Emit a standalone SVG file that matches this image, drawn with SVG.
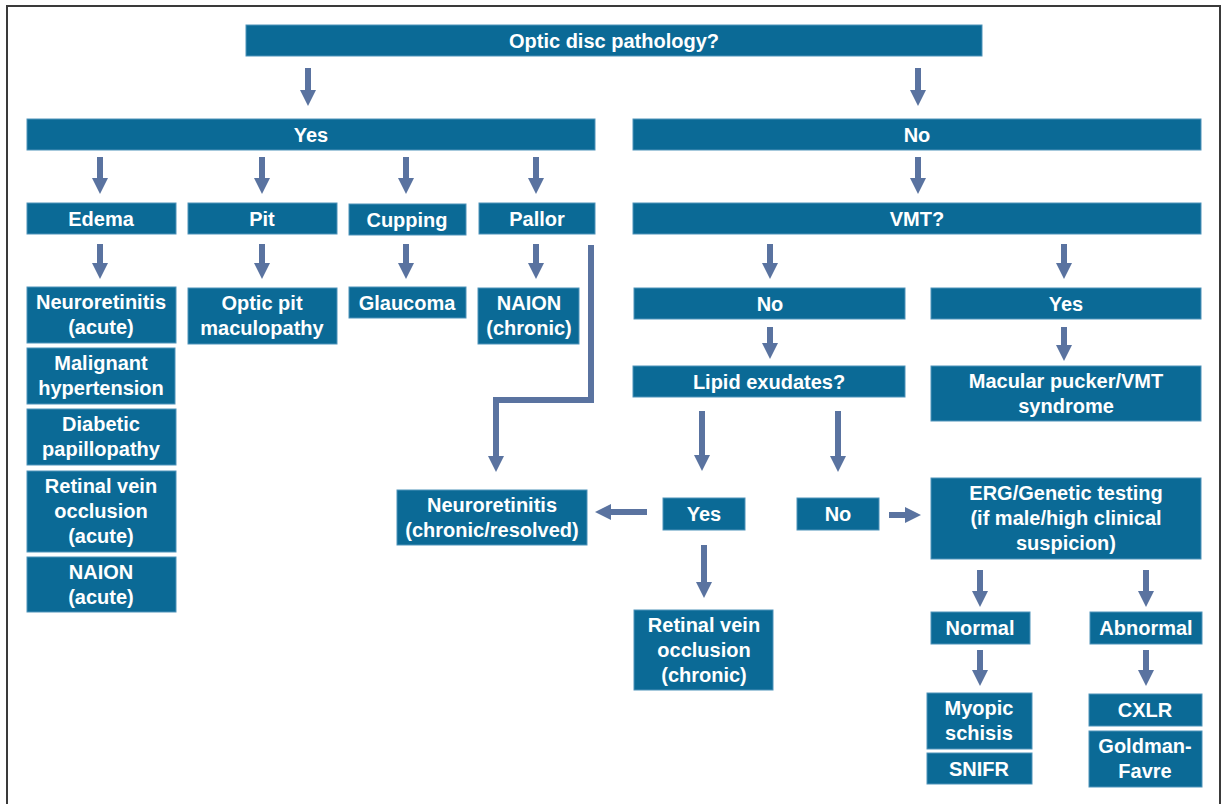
<svg xmlns="http://www.w3.org/2000/svg" width="1223" height="804" viewBox="0 0 1223 804">
<defs>
<style>
.b rect{fill:#0b6a96;stroke:#4f93ba;stroke-width:1}
.b text{fill:#ffffff;font-family:"Liberation Sans",Arial,sans-serif;font-weight:bold;font-size:20px;text-anchor:middle}
.c line,.c polyline{stroke:#5a73a0;stroke-width:6;fill:none;marker-end:url(#ah)}
</style>
<marker id="ah" markerUnits="userSpaceOnUse" markerWidth="16" markerHeight="16" refX="0" refY="8" orient="auto">
<path d="M0,0 L16,8 L0,16 z" fill="#5a73a0"/>
</marker>
</defs>
<rect x="0" y="0" width="1223" height="804" fill="#ffffff"/>
<rect x="7" y="6" width="1213" height="900" fill="none" stroke="#3a3a3a" stroke-width="2"/>

<g class="c" id="connectors">
<line x1="308" y1="68" x2="308" y2="90"/>
<line x1="918" y1="68" x2="918" y2="90"/>
<line x1="100" y1="157" x2="100" y2="178"/>
<line x1="262" y1="157" x2="262" y2="178"/>
<line x1="406" y1="157" x2="406" y2="178"/>
<line x1="536" y1="157" x2="536" y2="178"/>
<line x1="918" y1="157" x2="918" y2="178"/>
<line x1="100" y1="244" x2="100" y2="263"/>
<line x1="262" y1="244" x2="262" y2="263"/>
<line x1="406" y1="244" x2="406" y2="263"/>
<line x1="536" y1="244" x2="536" y2="263"/>
<line x1="770" y1="244" x2="770" y2="263"/>
<line x1="1064" y1="244" x2="1064" y2="263"/>
<polyline points="591,245 591,400 496,400 496,456"/>
<line x1="770" y1="327" x2="770" y2="343"/>
<line x1="1064" y1="327" x2="1064" y2="345"/>
<line x1="702" y1="411" x2="702" y2="455"/>
<line x1="838" y1="411" x2="838" y2="456"/>
<line x1="647" y1="512" x2="611" y2="512"/>
<line x1="889" y1="515" x2="905" y2="515"/>
<line x1="704" y1="545" x2="704" y2="582"/>
<line x1="980" y1="570" x2="980" y2="591"/>
<line x1="1146" y1="570" x2="1146" y2="591"/>
<line x1="980" y1="650" x2="980" y2="670"/>
<line x1="1146" y1="650" x2="1146" y2="670"/>
</g>

<g class="b" id="n-optic"><rect x="246" y="25" width="736" height="31"/><text x="614" y="48">Optic disc pathology?</text></g>
<g class="b" id="n-yes"><rect x="27" y="119" width="568" height="31"/><text x="311" y="142">Yes</text></g>
<g class="b" id="n-no"><rect x="633" y="119" width="568" height="31"/><text x="917" y="142">No</text></g>

<g class="b" id="n-edema"><rect x="27" y="203" width="149" height="31"/><text x="101" y="226">Edema</text></g>
<g class="b" id="n-pit"><rect x="188" y="203" width="149" height="31"/><text x="262" y="226">Pit</text></g>
<g class="b" id="n-cupping"><rect x="349" y="204" width="117" height="31"/><text x="407" y="227">Cupping</text></g>
<g class="b" id="n-pallor"><rect x="479" y="203" width="116" height="31"/><text x="537" y="226">Pallor</text></g>
<g class="b" id="n-vmt"><rect x="633" y="203" width="568" height="31"/><text x="917" y="226">VMT?</text></g>

<g class="b" id="n-neuro-acute"><rect x="27" y="287" width="149" height="56"/><text x="101" y="309">Neuroretinitis</text><text x="101" y="334">(acute)</text></g>
<g class="b" id="n-malignant"><rect x="27" y="348" width="148" height="56"/><text x="101" y="370">Malignant</text><text x="101" y="395">hypertension</text></g>
<g class="b" id="n-diabetic"><rect x="27" y="409" width="149" height="56"/><text x="101" y="431">Diabetic</text><text x="101" y="456">papillopathy</text></g>
<g class="b" id="n-rvo-acute"><rect x="27" y="471" width="149" height="81"/><text x="101" y="493">Retinal vein</text><text x="101" y="518">occlusion</text><text x="101" y="543">(acute)</text></g>
<g class="b" id="n-naion-acute"><rect x="27" y="557" width="149" height="55"/><text x="101" y="579">NAION</text><text x="101" y="604">(acute)</text></g>

<g class="b" id="n-optic-pit"><rect x="188" y="288" width="149" height="56"/><text x="262" y="310">Optic pit</text><text x="262" y="335">maculopathy</text></g>
<g class="b" id="n-glaucoma"><rect x="349" y="287" width="117" height="31"/><text x="407" y="310">Glaucoma</text></g>
<g class="b" id="n-naion-chronic"><rect x="478" y="288" width="101" height="56"/><text x="529" y="310">NAION</text><text x="529" y="335">(chronic)</text></g>

<g class="b" id="n-vmt-no"><rect x="634" y="288" width="271" height="31"/><text x="770" y="311">No</text></g>
<g class="b" id="n-vmt-yes"><rect x="931" y="288" width="270" height="31"/><text x="1066" y="311">Yes</text></g>
<g class="b" id="n-lipid"><rect x="633" y="366" width="272" height="31"/><text x="769" y="389">Lipid exudates?</text></g>
<g class="b" id="n-macular"><rect x="931" y="366" width="270" height="55"/><text x="1066" y="388">Macular pucker/VMT</text><text x="1066" y="413">syndrome</text></g>

<g class="b" id="n-neuro-chronic"><rect x="397" y="490" width="190" height="55"/><text x="492" y="512">Neuroretinitis</text><text x="492" y="537">(chronic/resolved)</text></g>
<g class="b" id="n-lipid-yes"><rect x="663" y="498" width="82" height="32"/><text x="704" y="521">Yes</text></g>
<g class="b" id="n-lipid-no"><rect x="797" y="498" width="82" height="32"/><text x="838" y="521">No</text></g>
<g class="b" id="n-erg"><rect x="931" y="478" width="270" height="81"/><text x="1066" y="500">ERG/Genetic testing</text><text x="1066" y="525">(if male/high clinical</text><text x="1066" y="550">suspicion)</text></g>

<g class="b" id="n-rvo-chronic"><rect x="634" y="610" width="139" height="80"/><text x="704" y="632">Retinal vein</text><text x="704" y="657">occlusion</text><text x="704" y="682">(chronic)</text></g>

<g class="b" id="n-normal"><rect x="931" y="612" width="99" height="32"/><text x="980" y="635">Normal</text></g>
<g class="b" id="n-abnormal"><rect x="1090" y="612" width="112" height="32"/><text x="1146" y="635">Abnormal</text></g>
<g class="b" id="n-myopic"><rect x="927" y="693" width="105" height="56"/><text x="979" y="715">Myopic</text><text x="979" y="740">schisis</text></g>
<g class="b" id="n-snifr"><rect x="927" y="753" width="105" height="31"/><text x="979" y="776">SNIFR</text></g>
<g class="b" id="n-cxlr"><rect x="1089" y="694" width="113" height="32"/><text x="1145" y="717">CXLR</text></g>
<g class="b" id="n-goldman"><rect x="1089" y="731" width="113" height="56"/><text x="1145" y="753">Goldman-</text><text x="1145" y="778">Favre</text></g>
</svg>
